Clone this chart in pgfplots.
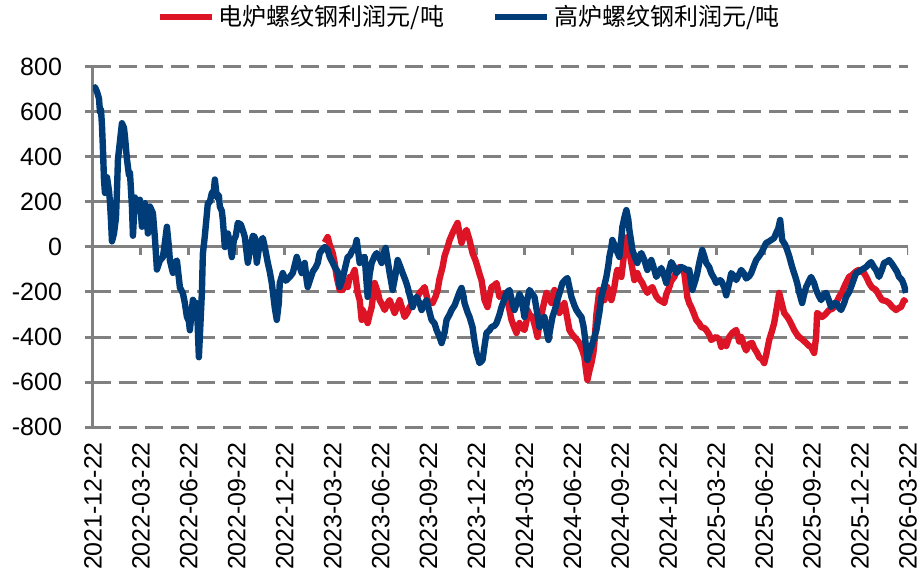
\documentclass[border=0pt]{standalone}
\usepackage{fontspec}
\setmainfont{Liberation Sans}
\newfontfamily\cjk{Noto Sans CJK SC}
\usepackage{pgfplots}
\pgfplotsset{compat=1.18}
\usepackage{pgfplotstable}

\definecolor{efred}{RGB}{220,20,38}
\definecolor{bfblue}{RGB}{0,61,120}
\definecolor{gridgrey}{RGB}{128,128,128}

% d = time in 1/16 month since 2021-12-22 (one quarter = 48), v = profit yuan/t
\pgfplotstableread{
d v
232 20
235 44
237 10
240 -27
242 -71
244 -133
247 -191
250 -191
253 -160
255 -178
257 -133
259 -133
262 -102
265 -204
267 -236
269 -324
270 -280
272 -300
275 -338
277 -300
279 -267
282 -160
285 -200
287 -236
290 -260
292 -280
295 -250
297 -236
300 -270
302 -293
305 -260
307 -236
310 -280
312 -311
315 -290
317 -267
320 -250
322 -236
325 -220
327 -204
330 -190
332 -178
335 -236
337 -245
340 -249
343 -220
345 -191
347 -140
350 -89
352 -40
355 0
357 30
360 62
363 90
365 107
367 60
369 18
372 60
374 76
377 31
380 -27
383 -60
385 -89
387 -120
389 -147
392 -236
395 -267
397 -220
399 -178
402 -170
404 -160
407 -222
410 -210
412 -204
415 -236
417 -280
419 -324
422 -360
424 -382
427 -338
429 -356
432 -369
434 -330
435 -280
437 -300
440 -311
443 -360
445 -400
447 -340
450 -280
452 -240
454 -204
457 -230
459 -249
462 -191
465 -250
467 -293
470 -270
472 -249
475 -320
477 -369
480 -390
482 -400
485 -415
487 -427
490 -460
492 -489
494 -560
495 -591
497 -550
499 -516
501 -470
502 -427
504 -300
507 -191
510 -220
512 -236
514 -200
515 -178
517 -210
519 -236
521 -200
522 -178
524 -120
525 -102
527 -120
529 -133
531 -60
532 -13
534 20
535 44
537 -20
539 -71
541 -120
542 -147
544 -130
545 -116
547 -140
550 -160
552 -180
555 -204
557 -190
560 -178
562 -200
564 -220
567 -236
569 -240
572 -249
574 -210
577 -178
579 -150
582 -133
584 -110
587 -89
590 -100
592 -116
595 -222
597 -250
599 -267
602 -300
604 -324
607 -340
609 -356
612 -360
614 -369
617 -390
619 -413
622 -405
624 -400
627 -410
629 -444
632 -420
634 -440
637 -400
640 -382
642 -375
644 -369
647 -420
649 -400
652 -440
654 -460
657 -430
660 -427
662 -450
665 -471
667 -490
670 -500
672 -516
674 -480
677 -413
680 -370
682 -338
685 -260
687 -204
689 -240
692 -293
695 -310
697 -324
700 -350
702 -369
705 -390
707 -400
710 -410
714 -427
717 -440
719 -444
722 -471
724 -400
725 -293
727 -300
730 -311
733 -300
737 -280
740 -275
742 -267
745 -240
747 -222
750 -200
752 -178
755 -150
757 -133
760 -125
762 -116
765 -105
767 -102
770 -110
772 -116
775 -140
777 -160
780 -180
784 -191
787 -215
790 -236
794 -240
797 -249
800 -265
804 -280
807 -270
809 -267
812 -236
814 -250
}\efdata

\pgfplotstableread{
d v
0 700
2 710
4 690
6 660
7 600
8 610
9 540
10 430
11 300
12 240
13 290
14 310
16 250
17 200
18 120
19 25
21 60
23 130
24 250
25 390
27 470
29 550
31 530
32 490
34 390
36 320
37 330
39 180
40 50
42 220
44 180
45 165
47 210
49 90
52 195
54 120
55 60
57 180
60 150
62 40
64 -100
67 -60
70 -45
72 20
74 90
76 0
77 -60
80 -115
82 -70
84 -60
87 -180
90 -205
92 -250
94 -310
96 -330
97 -370
99 -280
100 -235
103 -260
104 -250
106 -490
108 -300
109 -205
110 -30
112 50
115 195
117 200
119 240
121 250
122 300
124 220
126 230
127 180
129 160
130 120
132 0
135 60
137 20
139 -45
141 30
143 50
145 107
148 100
151 60
152 44
155 -70
157 -20
160 50
162 44
164 -70
167 20
170 40
172 0
175 -70
177 -110
179 -160
182 -270
184 -324
186 -250
187 -160
190 -116
193 -150
197 -133
200 -116
202 -80
204 -44
207 -89
209 -116
212 -71
214 -150
215 -178
217 -150
220 -110
223 -90
225 -71
227 -27
230 -10
232 0
235 -13
237 -44
240 -70
242 -89
245 -110
247 -178
250 -140
252 -100
255 -44
257 -40
260 -13
262 -10
264 31
267 -71
269 -50
272 -44
275 -222
277 -120
279 -71
282 -40
284 -27
287 -50
289 -71
291 -30
293 -4
295 -60
297 -116
300 -191
303 -120
305 -58
307 -80
310 -116
313 -150
315 -178
318 -230
320 -267
322 -240
324 -222
327 -250
329 -280
332 -250
334 -236
337 -290
339 -324
342 -340
344 -369
347 -400
349 -427
352 -380
354 -324
357 -300
359 -280
362 -260
364 -236
367 -200
369 -182
371 -220
372 -249
375 -290
377 -311
380 -356
382 -420
384 -471
387 -516
390 -502
392 -440
394 -382
397 -370
399 -356
402 -350
404 -338
407 -300
409 -267
412 -230
414 -204
417 -191
420 -250
422 -280
425 -240
427 -210
429 -230
432 -311
435 -230
437 -191
440 -210
442 -222
445 -300
447 -356
450 -330
452 -311
454 -370
456 -413
458 -360
460 -311
463 -270
465 -236
468 -190
470 -160
473 -145
475 -138
477 -180
479 -222
482 -260
484 -280
487 -300
489 -311
491 -350
492 -382
494 -460
495 -502
497 -470
499 -444
502 -400
504 -369
507 -290
509 -222
512 -170
514 -133
516 -80
517 -44
519 0
520 31
522 10
524 -13
527 -44
529 40
530 89
532 130
534 164
536 120
537 76
539 20
540 -13
543 -50
545 -71
547 -40
549 -27
552 -58
555 -102
557 -80
559 -58
562 -100
564 -133
567 -110
569 -93
572 -130
574 -160
577 -100
579 -67
582 -90
584 -116
587 -100
589 -89
592 -95
594 -102
597 -102
600 -191
603 -150
605 -116
607 -70
610 -13
612 -40
614 -71
617 -90
619 -116
622 -140
624 -160
627 -147
629 -150
632 -180
634 -215
637 -160
639 -116
642 -130
644 -147
647 -120
649 -102
652 -120
654 -140
657 -130
659 -116
662 -80
664 -58
667 -40
669 -27
672 0
674 18
677 25
679 31
682 40
684 62
686 80
688 120
690 31
693 10
695 -13
697 -40
700 -89
703 -130
705 -160
707 -200
710 -249
712 -210
714 -178
717 -150
719 -133
722 -160
724 -191
727 -220
729 -236
732 -210
734 -204
737 -240
739 -267
742 -250
744 -249
747 -270
749 -280
752 -250
754 -222
757 -200
759 -178
762 -140
764 -116
767 -110
769 -102
772 -95
774 -89
777 -75
779 -67
782 -90
784 -102
787 -133
790 -100
792 -71
795 -65
797 -58
800 -75
802 -89
805 -110
807 -133
810 -147
812 -170
814 -204
}\bfdata

\begin{document}
\begin{tikzpicture}
\useasboundingbox (-46.5pt,-75.5pt) rectangle (413pt,213.5pt);
\begin{axis}[
    scale only axis,
    width=407.5pt, height=180pt,
    xmin=0, xmax=816,
    ymin=-800, ymax=800,
    axis y line*=left,
    axis x line*=bottom,
    x axis line style={draw=none},
    y axis line style={gridgrey, line width=1.5pt},
    xtick={0,48,...,816},
    xticklabels={2021-12-22,2022-03-22,2022-06-22,2022-09-22,2022-12-22,2023-03-22,2023-06-22,2023-09-22,2023-12-22,2024-03-22,2024-06-22,2024-09-22,2024-12-22,2025-03-22,2025-06-22,2025-09-22,2025-12-22,2026-03-22},
    x tick style={draw=none},
    ytick={-800,-600,...,800},
    yticklabels={-800,-600,-400,-200,0,200,400,600,800},
    y tick style={gridgrey, line width=1.5pt},
    tick align=outside,
    major tick length=4pt,
    ymajorgrids=true,
    grid style={gridgrey, line width=1.5pt, dash pattern=on 9pt off 4pt},
    tick label style={font=\fontsize{12.5}{14}\selectfont},
    xticklabel style={rotate=90, anchor=east},
    yticklabel style={xshift=-8pt},
    legend style={at={(0.4626,1.139)}, anchor=center, draw=none, fill=none,
        legend columns=2, font=\cjk\fontsize{12}{14}\selectfont,
        /tikz/every even column/.append style={column sep=22pt}},
    legend image code/.code={\draw[#1, line width=3pt] (0pt,0pt) -- (26pt,0pt);},
]
\draw[gridgrey, line width=1.5pt] (axis cs:0,0) -- (axis cs:816,0);
\pgfplotsinvokeforeach{0,48,...,816}{
    \draw[gridgrey, line width=1.5pt] (axis cs:#1,0) -- ([yshift=-4pt]axis cs:#1,0);
}
\addplot[efred, line width=3.2pt, line join=round] table[x=d, y=v] {\efdata};
\addlegendentry{电炉螺纹钢利润元/吨}
\addplot[bfblue, line width=3.2pt, line join=round] table[x=d, y=v] {\bfdata};
\addlegendentry{高炉螺纹钢利润元/吨}
\end{axis}
\end{tikzpicture}
\end{document}
